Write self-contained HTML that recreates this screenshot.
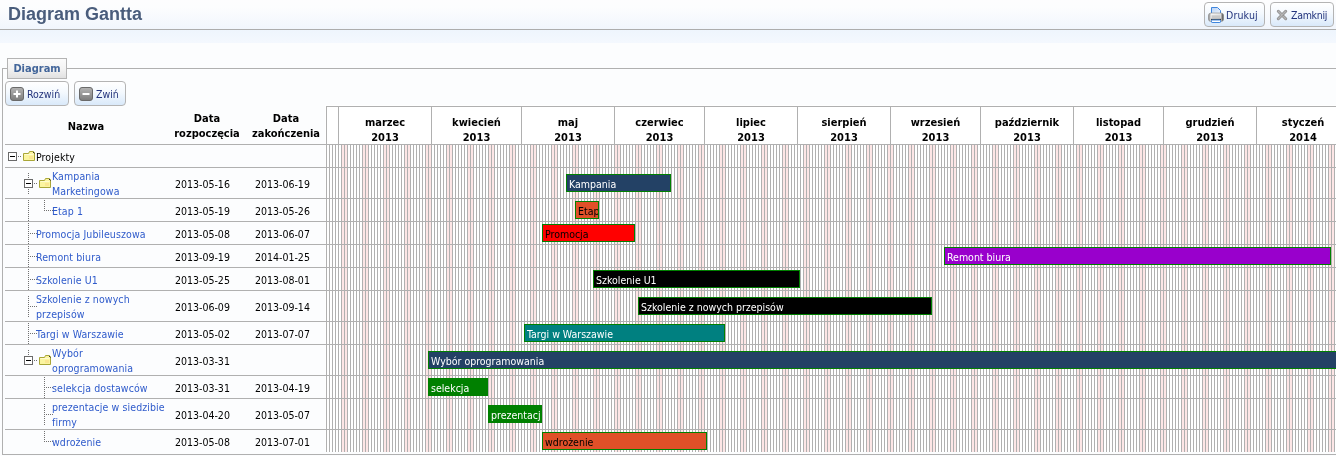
<!DOCTYPE html>
<html lang="pl"><head><meta charset="utf-8"><title>Diagram Gantta</title>
<style>
html,body{margin:0;padding:0}
body{width:1336px;height:456px;overflow:hidden;position:relative;background:#fcfdfe;font-family:"DejaVu Sans Condensed","Liberation Sans",sans-serif;font-size:10.5px;color:#000}
.abs{position:absolute}
#hdr{left:0;top:0;width:1336px;height:29px;background:linear-gradient(#fdfdfe 0,#fcfdfe 25%,#f1f6fd 100%);border-bottom:1px solid #adadad}
#sub{left:0;top:30px;width:1336px;height:13px;background:linear-gradient(#eef5fd,#f4f8fe)}
#title{left:8px;top:4px;font:bold 18px/20px "Liberation Sans",sans-serif;color:#4a5d7c;white-space:nowrap}
.btn{box-sizing:border-box;border:1px solid #b4b4b4;border-radius:4px;background:linear-gradient(#ffffff 0,#f4f9fe 45%,#d9e9fa 100%);color:#22337c;white-space:nowrap}
.btn span{position:absolute;top:6px;line-height:13px}
#fs{left:2px;top:68px;width:1400px;height:385px;border:1px solid #b0b0b0;border-right:0}
#lg{left:7px;top:58px;width:60px;height:21px;box-sizing:border-box;border:1px solid #b4b4b4;background:linear-gradient(#fbfbfb,#f3f3f3 50%,#e1e1e1);color:#43669a;font-weight:bold;font-size:11px;line-height:20px;text-align:center}
.hl{left:5px;height:1px;background:#b0b0b0;width:1400px}
.th{font-weight:bold;text-align:center;font-size:11px;line-height:15px}
.mh{top:106px;height:38px;box-sizing:border-box;border-left:1px solid #b0b0b0;border-top:1px solid #b0b0b0;background:#fff;font-weight:bold;text-align:center;line-height:15px;padding-top:8px;font-size:11px}
.nm{color:#2f5bcb;white-space:nowrap;line-height:15px;letter-spacing:.1px}
.dt{white-space:nowrap;line-height:15px}
.bar{box-sizing:border-box;height:18px;border:1px solid #008000;overflow:hidden;white-space:nowrap;line-height:15px;padding:2px 0 0 2px}
.vd{width:1px;background:repeating-linear-gradient(#707070 0,#707070 1px,transparent 1px,transparent 2px)}
.hd{height:1px;background:repeating-linear-gradient(90deg,#707070 0,#707070 1px,transparent 1px,transparent 2px)}
.bx{width:9px;height:9px;box-sizing:border-box;border:1px solid #6a6a6a;background:#fff}
.bx i{position:absolute;left:1px;top:3px;width:5px;height:1px;background:#000}
</style></head><body>
<div id="hdr" class="abs"></div><div id="sub" class="abs"></div>
<div id="title" class="abs">Diagram Gantta</div>

<div class="abs btn" style="left:1204px;top:2px;width:61px;height:25px">
<svg class="abs" style="left:3px;top:4px" width="16" height="16" viewBox="0 0 16 16"><defs>
<linearGradient id="pp" x1="0" y1="0" x2="1" y2="1"><stop offset="0" stop-color="#b7d2f6"/><stop offset="1" stop-color="#eef5fe"/></linearGradient>
<linearGradient id="pb" x1="0" y1="0" x2="1" y2="0"><stop offset="0" stop-color="#7b7b7b"/><stop offset=".18" stop-color="#f4f4f4"/><stop offset=".8" stop-color="#e2e2e2"/><stop offset="1" stop-color="#2e2e2e"/></linearGradient></defs>
<path d="M3.500 7V.5H9.500L12.500 3.500V7Z" fill="url(#pp)" stroke="#3f86dd"/>
<rect x=".5" y="6" width="15" height="8.500" rx="2.500" fill="url(#pb)" stroke="#8a8a8a" stroke-width=".6"/>
<rect x="3.500" y="8.300" width="9" height="3" fill="#c9c9c9"/>
<rect x="3" y="11.800" width="10" height="1.600" fill="#3c3c3c"/>
<rect x="3.500" y="13" width="9" height="2.500" rx=".6" fill="#fff" stroke="#3f86dd"/></svg>
<span style="left:21px;letter-spacing:.15px">Drukuj</span></div>
<div class="abs btn" style="left:1270px;top:2px;width:64px;height:25px">
<svg class="abs" style="left:5px;top:6px" width="12" height="12" viewBox="0 0 12 12"><path d="M2.300 2.300l7.400 7.400M9.700 2.300l-7.400 7.400" stroke="#909090" stroke-width="3" stroke-linecap="round"/><path d="M2.300 2.300l7.400 7.400M9.700 2.300l-7.400 7.400" stroke="#b4b4b4" stroke-width="1.300" stroke-linecap="round"/></svg>
<span style="left:20px;letter-spacing:-.3px">Zamknij</span></div>

<div id="fs" class="abs"></div><div id="lg" class="abs">Diagram</div>
<div class="abs btn" style="left:5px;top:81px;width:64px;height:25px"><svg class="abs" style="left:4px;top:5px" width="14" height="14" viewBox="0 0 14 14"><defs><linearGradient id="g1" x1="0" y1="0" x2="0" y2="1"><stop offset="0" stop-color="#b4b4b4"/><stop offset="1" stop-color="#7c7c7c"/></linearGradient></defs><rect x=".5" y=".5" width="13" height="13" rx="2.500" fill="url(#g1)" stroke="#6a6a6a"/><path d="M7 3.500v7M3.500 7h7" stroke="#fff" stroke-width="2"/></svg><span style="left:21px">Rozwiń</span></div>
<div class="abs btn" style="left:74px;top:81px;width:52px;height:25px"><svg class="abs" style="left:4px;top:5px" width="14" height="14" viewBox="0 0 14 14"><defs><linearGradient id="g2" x1="0" y1="0" x2="0" y2="1"><stop offset="0" stop-color="#b4b4b4"/><stop offset="1" stop-color="#7c7c7c"/></linearGradient></defs><rect x=".5" y=".5" width="13" height="13" rx="2.500" fill="url(#g2)" stroke="#6a6a6a"/><path d="M3.500 7h7" stroke="#fff" stroke-width="2"/></svg><span style="left:21px">Zwiń</span></div>
<div class="abs th" style="left:5px;top:119px;width:162px">Nazwa</div>
<div class="abs th" style="left:167px;top:111px;width:80px">Data<br>rozpoczęcia</div>
<div class="abs th" style="left:246px;top:111px;width:80px">Data<br>zakończenia</div>
<div class="abs" style="left:325px;top:105px;width:1100px;height:347px;background:#fff"></div>
<div class="abs" style="left:326px;top:145px;width:1100px;height:307px;background:repeating-linear-gradient(90deg,#b0b0b0 0px,#b0b0b0 1px,#fff 1px,#fff 3px,#b0b0b0 3px,#b0b0b0 4px,#fff 4px,#fff 6px,#b0b0b0 6px,#b0b0b0 7px,#fff 7px,#fff 9px,#b0b0b0 9px,#b0b0b0 10px,#fff 10px,#fff 12px,#b0b0b0 12px,#b0b0b0 13px,#fff 13px,#fff 15px,#b0b0b0 15px,#b0b0b0 16px,#fde6e6 16px,#fde6e6 18px,#b0b0b0 18px,#b0b0b0 19px,#fde6e6 19px,#fde6e6 21px)"></div>
<div class="abs mh" style="left:326px;width:12px"></div>
<div class="abs mh" style="left:338px;width:93px">marzec<br>2013</div>
<div class="abs mh" style="left:431px;width:90px">kwiecień<br>2013</div>
<div class="abs mh" style="left:521px;width:93px">maj<br>2013</div>
<div class="abs mh" style="left:614px;width:90px">czerwiec<br>2013</div>
<div class="abs mh" style="left:704px;width:93px">lipiec<br>2013</div>
<div class="abs mh" style="left:797px;width:93px">sierpień<br>2013</div>
<div class="abs mh" style="left:890px;width:90px">wrzesień<br>2013</div>
<div class="abs mh" style="left:980px;width:93px">październik<br>2013</div>
<div class="abs mh" style="left:1073px;width:90px">listopad<br>2013</div>
<div class="abs mh" style="left:1163px;width:93px">grudzień<br>2013</div>
<div class="abs mh" style="left:1256px;width:93px">styczeń<br>2014</div>
<div class="abs hl" style="top:144px"></div>
<div class="abs hl" style="top:167px"></div>
<div class="abs hl" style="top:198px"></div>
<div class="abs hl" style="top:221px"></div>
<div class="abs hl" style="top:244px"></div>
<div class="abs hl" style="top:267px"></div>
<div class="abs hl" style="top:290px"></div>
<div class="abs hl" style="top:321px"></div>
<div class="abs hl" style="top:344px"></div>
<div class="abs hl" style="top:375px"></div>
<div class="abs hl" style="top:398px"></div>
<div class="abs hl" style="top:429px"></div>
<div class="abs bx" style="left:8px;top:152px"><i></i></div>
<div class="abs hd" style="left:18px;top:156px;width:3px"></div>
<svg class="abs" style="left:23px;top:151px" width="12" height="10" viewBox="0 0 12 10"><path d="M0.500 9.500V2.500H5.500L6.500 0.500H10.500L11.500 1.500V9.500Z" fill="#fbf5a0" stroke="#a9a637"/><path d="M1.500 3.500H10.500" stroke="#fffbd0"/><path d="M10 1L11.500 2.500" stroke="#333" stroke-width="1"/><rect x="6" y="5" width="4" height="3" fill="#fbe08c" opacity=".7"/></svg>
<div class="abs nm" style="left:36px;top:149.5px;color:#000;">Projekty</div>
<div class="abs vd" style="left:28px;top:173px;height:21px"></div>
<div class="abs bx" style="left:24px;top:179px"><i></i></div>
<div class="abs hd" style="left:34px;top:183px;width:3px"></div>
<svg class="abs" style="left:39px;top:178px" width="12" height="10" viewBox="0 0 12 10"><path d="M0.500 9.500V2.500H5.500L6.500 0.500H10.500L11.500 1.500V9.500Z" fill="#fbf5a0" stroke="#a9a637"/><path d="M1.500 3.500H10.500" stroke="#fffbd0"/><path d="M10 1L11.500 2.500" stroke="#333" stroke-width="1"/><rect x="6" y="5" width="4" height="3" fill="#fbe08c" opacity=".7"/></svg>
<div class="abs nm" style="left:52px;top:169.0px;">Kampania<br>Marketingowa</div>
<div class="abs dt" style="left:175px;top:176.5px">2013-05-16</div>
<div class="abs dt" style="left:255px;top:176.5px">2013-06-19</div>
<div class="abs bar" style="left:566px;top:174px;width:105px;background:#234165;color:#fff">Kampania</div>
<div class="abs vd" style="left:44px;top:200px;height:11px"></div>
<div class="abs hd" style="left:46px;top:210px;width:7px"></div>
<div class="abs vd" style="left:28px;top:200px;height:21px"></div>
<div class="abs nm" style="left:52px;top:203.5px;">Etap 1</div>
<div class="abs dt" style="left:175px;top:203.5px">2013-05-19</div>
<div class="abs dt" style="left:255px;top:203.5px">2013-05-26</div>
<div class="abs bar" style="left:575px;top:201px;width:24px;background:#e05028;color:#000">Etap 1</div>
<div class="abs vd" style="left:28px;top:223px;height:21px"></div>
<div class="abs hd" style="left:30px;top:233px;width:7px"></div>
<div class="abs nm" style="left:36px;top:226.5px;">Promocja Jubileuszowa</div>
<div class="abs dt" style="left:175px;top:226.5px">2013-05-08</div>
<div class="abs dt" style="left:255px;top:226.5px">2013-06-07</div>
<div class="abs bar" style="left:542px;top:224px;width:93px;background:#ff0000;color:#000">Promocja</div>
<div class="abs vd" style="left:28px;top:246px;height:21px"></div>
<div class="abs hd" style="left:30px;top:256px;width:7px"></div>
<div class="abs nm" style="left:36px;top:249.5px;">Remont biura</div>
<div class="abs dt" style="left:175px;top:249.5px">2013-09-19</div>
<div class="abs dt" style="left:255px;top:249.5px">2014-01-25</div>
<div class="abs bar" style="left:944px;top:247px;width:387px;background:#9900cc;color:#fff">Remont biura</div>
<div class="abs vd" style="left:28px;top:269px;height:21px"></div>
<div class="abs hd" style="left:30px;top:279px;width:7px"></div>
<div class="abs nm" style="left:36px;top:272.5px;">Szkolenie U1</div>
<div class="abs dt" style="left:175px;top:272.5px">2013-05-25</div>
<div class="abs dt" style="left:255px;top:272.5px">2013-08-01</div>
<div class="abs bar" style="left:593px;top:270px;width:207px;background:#000000;color:#fff">Szkolenie U1</div>
<div class="abs vd" style="left:28px;top:296px;height:21px"></div>
<div class="abs hd" style="left:30px;top:306px;width:7px"></div>
<div class="abs nm" style="left:36px;top:292.0px;">Szkolenie z nowych<br>przepisów</div>
<div class="abs dt" style="left:175px;top:299.5px">2013-06-09</div>
<div class="abs dt" style="left:255px;top:299.5px">2013-09-14</div>
<div class="abs bar" style="left:638px;top:297px;width:294px;background:#000000;color:#fff">Szkolenie z nowych przepisów</div>
<div class="abs vd" style="left:28px;top:323px;height:21px"></div>
<div class="abs hd" style="left:30px;top:333px;width:7px"></div>
<div class="abs nm" style="left:36px;top:326.5px;">Targi w Warszawie</div>
<div class="abs dt" style="left:175px;top:326.5px">2013-05-02</div>
<div class="abs dt" style="left:255px;top:326.5px">2013-07-07</div>
<div class="abs bar" style="left:524px;top:324px;width:201px;background:#008080;color:#fff">Targi w Warszawie</div>
<div class="abs vd" style="left:28px;top:350px;height:6px"></div>
<div class="abs bx" style="left:24px;top:356px"><i></i></div>
<div class="abs hd" style="left:34px;top:360px;width:3px"></div>
<svg class="abs" style="left:39px;top:355px" width="12" height="10" viewBox="0 0 12 10"><path d="M0.500 9.500V2.500H5.500L6.500 0.500H10.500L11.500 1.500V9.500Z" fill="#fbf5a0" stroke="#a9a637"/><path d="M1.500 3.500H10.500" stroke="#fffbd0"/><path d="M10 1L11.500 2.500" stroke="#333" stroke-width="1"/><rect x="6" y="5" width="4" height="3" fill="#fbe08c" opacity=".7"/></svg>
<div class="abs nm" style="left:52px;top:346.0px;">Wybór<br>oprogramowania</div>
<div class="abs dt" style="left:175px;top:353.5px">2013-03-31</div>
<div class="abs bar" style="left:428px;top:351px;width:972px;background:#234165;color:#fff">Wybór oprogramowania</div>
<div class="abs vd" style="left:44px;top:377px;height:21px"></div>
<div class="abs hd" style="left:46px;top:387px;width:7px"></div>
<div class="abs nm" style="left:52px;top:380.5px;">selekcja dostawców</div>
<div class="abs dt" style="left:175px;top:380.5px">2013-03-31</div>
<div class="abs dt" style="left:255px;top:380.5px">2013-04-19</div>
<div class="abs bar" style="left:428px;top:378px;width:60px;background:#008000;color:#fff">selekcja</div>
<div class="abs vd" style="left:44px;top:404px;height:21px"></div>
<div class="abs hd" style="left:46px;top:414px;width:7px"></div>
<div class="abs nm" style="left:52px;top:400.0px;">prezentacje w siedzibie<br>firmy</div>
<div class="abs dt" style="left:175px;top:407.5px">2013-04-20</div>
<div class="abs dt" style="left:255px;top:407.5px">2013-05-07</div>
<div class="abs bar" style="left:488px;top:405px;width:54px;background:#008000;color:#fff">prezentacje</div>
<div class="abs vd" style="left:44px;top:431px;height:11px"></div>
<div class="abs hd" style="left:46px;top:441px;width:7px"></div>
<div class="abs nm" style="left:52px;top:434.5px;">wdrożenie</div>
<div class="abs dt" style="left:175px;top:434.5px">2013-05-08</div>
<div class="abs dt" style="left:255px;top:434.5px">2013-07-01</div>
<div class="abs bar" style="left:542px;top:432px;width:165px;background:#e05028;color:#000">wdrożenie</div>
</body></html>
